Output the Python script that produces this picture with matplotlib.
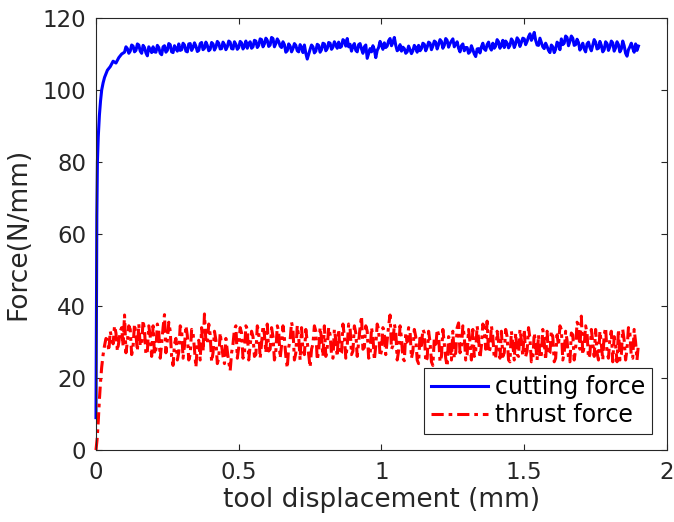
import numpy as np
import matplotlib
matplotlib.use('Agg')
import matplotlib.pyplot as plt

# cutting force: start-up ramp, then steady part read every 0.01 mm,
# plus the in-between readings (x + 0.005 mm)
cut_ramp_x = [0.0, 0.001, 0.002, 0.003, 0.005, 0.008, 0.012, 0.016, 0.02,
              0.025, 0.03, 0.04, 0.05, 0.06, 0.07, 0.08, 0.09]
cut_ramp_y = [9, 25, 45, 65, 80, 87, 93, 97, 100,
              102, 103.5, 105.5, 106.5, 108, 107.5, 109, 110]
cut_steady = [
    110.5, 111.5, 110.8, 112.2, 111.0, 112.5, 110.2, 111.8, 109.5, 111.2,
    112.0, 110.5, 111.8, 109.8, 112.3, 111.0, 112.6, 110.4, 111.5, 112.8,
    111.2, 112.5, 110.6, 112.9, 111.8, 112.2, 111.0, 113.2, 111.6, 112.4,
    111.3, 112.8, 111.9, 113.0, 111.5, 112.6, 112.0, 113.3, 111.4, 112.7,
    111.8, 113.1, 112.2, 111.6, 113.4, 112.0, 113.6, 112.4, 114.0, 112.8,
    113.8, 112.5, 114.3, 112.9, 113.5, 111.8, 112.6, 110.9, 112.2, 111.5,
    112.4, 110.6, 111.8, 112.5, 108.6, 111.3, 112.0, 110.8, 112.4, 111.2,
    112.8, 111.5, 113.0, 111.9, 112.6, 113.3, 112.1, 113.6, 114.3, 112.7,
    112.2, 111.0, 112.6, 111.4, 112.0, 108.8, 111.5, 112.3, 109.0, 111.8,
    112.5, 113.1, 112.2, 114.3, 113.2, 112.4, 111.3, 110.8, 111.5, 110.6,
    111.2, 110.9, 111.8, 112.4, 111.5, 112.7, 111.9, 113.0, 112.2, 113.3,
    112.6, 113.5, 112.4, 113.8, 112.9, 114.2, 112.8, 111.6, 112.3, 110.9,
    111.8, 110.6, 111.2, 109.3, 111.5, 112.0, 111.4, 112.6, 111.8, 113.0,
    112.2, 113.4, 112.5, 111.8, 113.0, 112.4, 113.6, 112.8, 113.9, 113.2,
    114.2, 113.5, 115.6, 114.6, 113.8, 112.4, 113.2, 111.5, 112.1, 110.4,
    112.0, 111.3, 112.8, 114.2, 113.0, 114.6, 113.5, 114.4, 112.6, 113.2,
    112.0, 111.4, 112.8, 111.8, 112.5, 113.3, 111.6, 112.4, 111.2, 112.9,
    112.0, 113.1, 111.7, 112.6, 111.4, 112.3, 109.4, 112.0, 111.6, 112.8,
    112.2]
cut_mid = [
    112.0, 110.2, 112.5, 110.6, 112.8, 110.8, 112.4, 110.3, 112.0, 110.4,
    110.6, 112.4, 110.2, 112.0, 110.5, 112.9, 110.6, 112.3, 110.8, 111.0,
    113.0, 110.8, 112.8, 111.0, 113.1, 110.7, 112.9, 111.2, 113.3, 110.9,
    113.2, 111.1, 113.5, 111.4, 113.3, 111.2, 113.6, 111.5, 113.4, 111.3,
    113.5, 111.4, 113.6, 112.9, 111.6, 113.8, 111.8, 114.2, 112.0, 114.4,
    112.1, 114.6, 112.0, 114.2, 112.2, 113.4, 110.5, 112.8, 110.6, 112.9,
    110.9, 112.6, 110.4, 110.2, 110.0, 112.5, 110.3, 112.7, 110.5, 113.0,
    110.9, 113.2, 111.3, 113.4, 111.6, 111.8, 114.0, 112.2, 112.0, 110.8,
    112.9, 110.6, 112.9, 110.2, 112.5, 110.2, 110.6, 111.2, 111.0, 113.5,
    111.3, 111.8, 113.7, 112.3, 114.6, 110.9, 112.6, 111.9, 110.2, 112.2,
    110.1, 112.4, 110.5, 110.9, 113.0, 110.9, 113.3, 111.2, 113.6, 111.4,
    114.0, 111.6, 114.3, 111.9, 113.6, 112.0, 113.4, 110.6, 112.8, 111.8,
    110.2, 112.3, 110.0, 111.4, 110.3, 113.0, 111.0, 113.3, 111.1, 111.6,
    114.0, 111.6, 113.8, 113.6, 111.7, 114.2, 111.8, 114.5, 112.1, 114.4,
    112.6, 114.8, 113.8, 116.0, 112.5, 114.4, 112.0, 113.0, 111.0, 112.5,
    110.4, 113.3, 111.2, 112.6, 115.0, 112.3, 115.0, 112.4, 114.1, 111.1,
    113.0, 110.6, 113.3, 110.9, 114.0, 111.4, 113.5, 110.6, 113.4, 111.0,
    113.6, 110.8, 113.4, 110.6, 113.6, 110.2, 111.2, 113.0, 110.5, 111.0]

# thrust force: same layout, steady readings start at 0.04 mm
thr_ramp_x = [0.0, 0.004, 0.008, 0.012, 0.016, 0.02, 0.025, 0.03, 0.035]
thr_ramp_y = [0, 3, 8, 14, 19, 23, 26.5, 29, 31]
thr_steady = [
    30.5, 33.0, 29.5, 32.5, 30.0, 34.0,
    37.5, 30.2, 33.5, 28.8, 32.0, 35.0, 29.0, 33.2, 27.5, 31.5,
    34.5, 28.0, 32.8, 29.5, 37.6, 30.5, 33.0, 23.5, 31.0, 27.2,
    33.5, 29.0, 31.8, 26.5, 32.5, 23.0, 30.5, 34.0, 37.8, 29.5,
    32.0, 27.0, 30.5, 25.5, 29.0, 24.0, 27.5, 22.0, 29.5, 34.5,
    28.5, 32.5, 27.0, 33.5, 29.0, 31.5, 26.5, 33.0, 29.5, 32.0,
    35.0, 28.0, 31.5, 27.5, 33.0, 29.0, 31.0, 22.8, 30.5, 33.5,
    27.0, 31.5, 34.0, 26.5, 30.0, 23.0, 29.5, 33.0, 27.5, 31.0,
    34.5, 28.5, 32.0, 25.5, 30.5, 33.5, 27.0, 31.5, 29.0, 34.0,
    27.5, 32.5, 30.0, 37.2, 28.5, 33.0, 26.0, 31.5, 29.0, 33.5,
    27.5, 32.0, 30.5, 37.5, 29.0, 33.0, 27.5, 31.0, 24.8, 30.0,
    33.0, 27.5, 31.5, 24.0, 29.0, 32.5, 25.5, 30.0, 23.5, 28.5,
    32.0, 26.0, 29.5, 23.2, 30.5, 33.0, 27.0, 35.3, 28.5, 31.5,
    26.5, 30.0, 33.5, 27.5, 31.0, 29.0, 34.0, 35.8, 28.0, 31.5,
    25.5, 30.0, 33.0, 27.0, 31.5, 24.5, 29.5, 32.5, 26.0, 30.5,
    33.5, 27.5, 31.0, 25.0, 29.5, 32.0, 26.5, 30.0, 33.0, 27.0,
    31.5, 25.5, 29.0, 33.5, 27.0, 30.5, 24.5, 32.0, 28.0, 34.5,
    37.2, 29.0, 32.5, 26.5, 30.0, 33.5, 25.0, 29.5, 32.0, 27.0,
    31.0, 24.5, 29.0, 33.5, 26.5, 30.5, 28.0, 32.5, 25.5, 30.0,
    29.5]
thr_mid = [
    27.5, 31.0, 34.5, 27.5, 33.0, 29.0,
    27.0, 34.5, 26.5, 35.0, 27.5, 29.0, 36.0, 26.5, 34.5, 26.0,
    26.5, 35.0, 25.5, 34.0, 27.0, 35.5, 26.0, 29.5, 25.0, 34.5,
    25.5, 34.5, 25.0, 33.5, 28.0, 29.0, 25.0, 27.5, 30.0, 35.0,
    24.5, 33.0, 24.0, 32.5, 26.0, 31.0, 24.5, 27.0, 33.5, 25.5,
    34.0, 25.5, 34.5, 25.0, 33.0, 26.0, 34.5, 25.5, 34.5, 27.0,
    27.5, 34.0, 25.0, 34.5, 25.5, 34.5, 26.0, 28.5, 35.5, 25.0,
    34.5, 25.0, 27.5, 33.5, 26.5, 28.0, 34.5, 25.0, 34.0, 26.0,
    26.0, 34.0, 26.5, 33.5, 26.0, 26.5, 35.0, 25.5, 35.0, 26.5,
    34.5, 26.0, 34.0, 28.0, 34.5, 25.5, 34.0, 25.0, 35.0, 26.0,
    34.0, 26.5, 34.5, 28.0, 35.0, 25.0, 34.5, 25.5, 32.5, 34.0,
    25.5, 33.5, 25.0, 32.0, 33.5, 24.5, 33.0, 24.5, 31.0, 33.5,
    24.5, 33.5, 25.5, 31.5, 25.0, 25.5, 34.0, 27.0, 34.5, 25.0,
    33.5, 25.0, 26.0, 34.5, 25.5, 35.0, 28.0, 27.0, 34.5, 25.5,
    33.0, 25.5, 26.0, 33.5, 25.0, 33.0, 25.0, 26.5, 33.5, 26.0,
    26.0, 34.0, 24.5, 32.5, 25.0, 25.5, 33.5, 25.0, 26.5, 33.0,
    24.5, 32.0, 34.5, 25.0, 33.0, 25.5, 32.5, 25.0, 35.5, 28.0,
    26.5, 34.5, 25.5, 33.5, 26.0, 27.0, 33.0, 25.0, 34.0, 25.5,
    33.0, 31.5, 24.5, 25.0, 33.5, 25.0, 34.0, 26.0, 33.5, 25.0]


def merge(ramp_x, ramp_y, steady, mid, x0):
    """Join ramp + interleaved steady/mid readings taken every 0.005 mm."""
    ys = [v for pair in zip(steady, mid) for v in pair] + [steady[-1]]
    xs = [round(x0 + 0.005 * i, 3) for i in range(len(ys))]
    return ramp_x + xs, ramp_y + ys


cut_x, cut_y = merge(cut_ramp_x, cut_ramp_y, cut_steady, cut_mid, 0.10)
thr_x, thr_y = merge(thr_ramp_x, thr_ramp_y, thr_steady, thr_mid, 0.04)

xticks = [0, 0.5, 1, 1.5, 2]
xtick_labels = ['0', '0.5', '1', '1.5', '2']
yticks = [0, 20, 40, 60, 80, 100, 120]

plt.rcParams['font.family'] = ['DejaVu Sans']
dark = '#262626'

fig = plt.figure(figsize=(6.74, 5.22), dpi=100)
ax = fig.add_axes([0.1424, 0.1379, 0.8472, 0.8276])

ax.plot(cut_x, cut_y, color='#0000FF', lw=2.2, label='cutting force',
        clip_on=False)
ax.plot(thr_x, thr_y, color='#FF0000', lw=2.2, linestyle=(0, (4, 1.6, 1.2, 1.6)),
        label='thrust force', clip_on=False)

ax.set_xlim(0, 2)
ax.set_ylim(0, 120)
ax.set_xticks(xticks)
ax.set_xticklabels(xtick_labels)
ax.set_yticks(yticks)
ax.tick_params(direction='in', top=True, right=True, length=4, width=0.8,
               color=dark, labelcolor=dark, labelsize=16.5)
ax.tick_params(axis='y', pad=7)
ax.tick_params(axis='x', pad=8)
for s in ax.spines.values():
    s.set_color(dark)
    s.set_linewidth(0.8)

ax.set_xlabel('tool displacement (mm)', fontsize=19, color=dark, labelpad=2)
ax.set_ylabel('Force(N/mm)', fontsize=19, color=dark, labelpad=8)

leg = ax.legend(loc='lower right', bbox_to_anchor=(0.974, 0.037), borderaxespad=0,
                fontsize=17, fancybox=False, framealpha=1, edgecolor=dark,
                borderpad=0.3, labelspacing=0.15, handlelength=2.4,
                handletextpad=0.3)
leg.get_frame().set_linewidth(0.8)
for t in leg.get_texts():
    t.set_color('black')

fig.savefig('out.png', dpi=100)
